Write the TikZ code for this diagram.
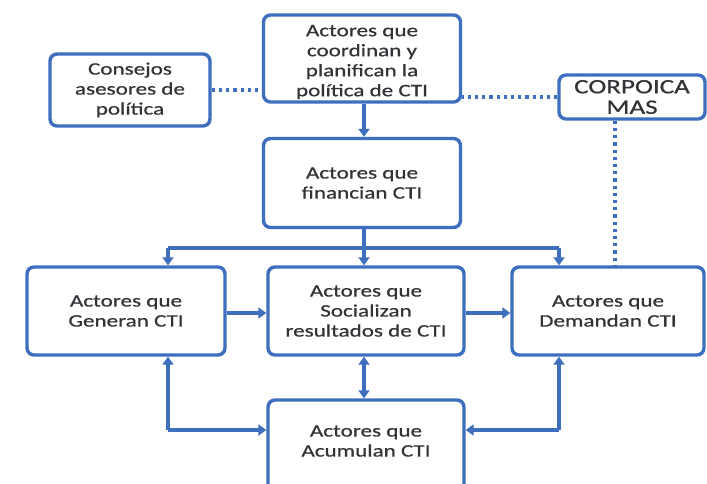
\documentclass[tikz,border=0pt]{standalone}
\usepackage{fontspec}
\setmainfont{Carlito}[FakeStretch=1.32,FakeBold=0.6]
\usetikzlibrary{arrows.meta}
\definecolor{lineblue}{RGB}{62,110,190}
\definecolor{txtgray}{RGB}{50,50,55}
\tikzset{
  box/.style={draw=lineblue, line width=3.4pt, rounded corners=7pt, fill=white,
    align=center, text=txtgray, font=\fontsize{17.5}{20}\selectfont, inner sep=0pt},
  lbl/.style={align=center, text=txtgray, font=\fontsize{17.5}{20}\selectfont, inner sep=0pt},
  conn/.style={draw=lineblue, line width=3.4pt},
  arr/.style={conn, -{Triangle[width=11pt,length=8pt]}},
  darr/.style={conn, {Triangle[width=11pt,length=8pt]}-{Triangle[width=11pt,length=8pt]}},
  dot/.style={draw=lineblue, line width=3.6pt, dash pattern=on 3.2pt off 4pt}
}
\begin{document}
\begin{tikzpicture}[x=1pt,y=-1pt]
\useasboundingbox (0,0) rectangle (707,483);
\clip (0,0) rectangle (707,483);
\fill[white] (0,0) rectangle (707,483);
\node[box, minimum width=197pt, minimum height=87pt] (coord) at (362,58.5) {};
\node[lbl] (coordt) at (362,62) {Actores que\\coordinan y\\planifican la\\política de CTI};
\node[box, minimum width=160pt, minimum height=72pt] (cons) at (130,90) {Consejos\\asesores de\\política};
\node[box, minimum width=146pt, minimum height=44pt, font=\fontsize{20.5}{20.5}\selectfont] (corp) at (632,97) {CORPOICA\\MAS};
\node[box, minimum width=197pt, minimum height=89pt] (fin) at (362,183) {Actores que\\financian CTI};
\node[box, minimum width=198pt, minimum height=88pt] (gen) at (126,311) {Actores que\\Generan CTI};
\node[box, minimum width=196pt, minimum height=88pt] (soc) at (366,311) {Actores que\\Socializan\\resultados de CTI};
\node[box, minimum width=192pt, minimum height=88pt] (dem) at (608,311) {Actores que\\Demandan CTI};
\node[box, minimum width=196pt, minimum height=94pt] (acu) at (366,447) {};
\node[lbl] (acut) at (366,441) {Actores que\\Acumulan CTI};
% dotted links
\draw[dot] (cons.east) -- (cons.east -| coord.west);
\draw[dot] (corp.west) -- (corp.west -| coord.east);
\draw[dot] (corp.south -| 615,0) -- (dem.north -| 615,0);
% top flow
\draw[arr] (coord.south -| 364,0) -- (fin.north -| 364,0);
\coordinate (j) at (364,248);
\coordinate (jl) at (168,248);
\coordinate (jr) at (559,248);
\draw[conn] (fin.south -| 364,0) -- (j);
\draw[conn] (jl) -- (jr);
\draw[arr] (j) -- (soc.north -| 364,0);
\draw[arr] (jl) -- (gen.north -| 168,0);
\draw[arr] (jr) -- (dem.north -| 559,0);
% middle row
\draw[arr] (gen.east |- 0,313) -- (soc.west |- 0,313);
\draw[arr] (soc.east |- 0,313) -- (dem.west |- 0,313);
% lower
\draw[darr] (soc.south -| 364,0) -- (acu.north -| 364,0);
\coordinate (bl) at (168,430);
\coordinate (br) at (559,430);
\draw[conn, {Triangle[width=11pt,length=8pt]}-] (gen.south -| 168,0) -- (bl);
\draw[arr] (bl) -- (acu.west |- bl);
\draw[conn, {Triangle[width=11pt,length=8pt]}-] (dem.south -| 559,0) -- (br);
\draw[arr] (br) -- (acu.east |- br);
\end{tikzpicture}
\end{document}
